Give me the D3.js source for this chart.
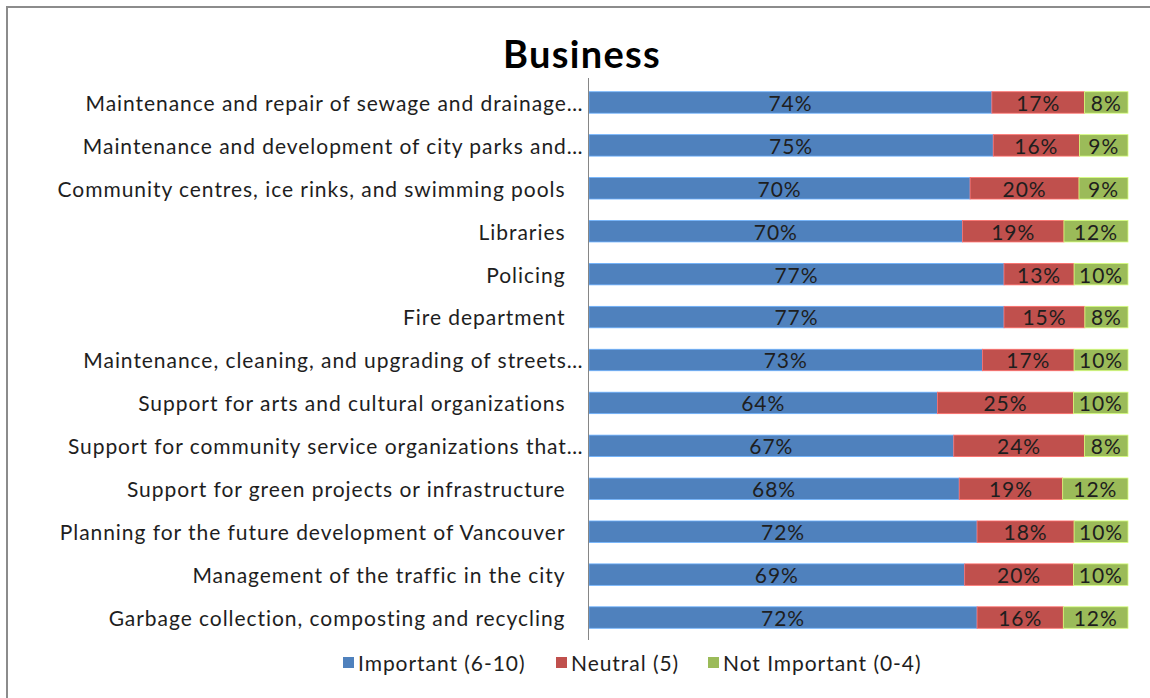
<!DOCTYPE html>
<html>
<head>
<meta charset="utf-8">
<script src="https://cdn.jsdelivr.net/npm/d3@7"></script>
<style>
  html, body { margin: 0; padding: 0; background: #fff; }
  svg { display: block; font-family: Lato, "Open Sans", sans-serif; }
</style>
</head>
<body>
<svg id="chart" width="1150" height="698"></svg>
<script>
// Service categories, top to bottom
const categories = [
  "Maintenance and repair of sewage and drainage…",
  "Maintenance and development of city parks and…",
  "Community centres, ice rinks, and swimming pools",
  "Libraries",
  "Policing",
  "Fire department",
  "Maintenance, cleaning, and upgrading of streets…",
  "Support for arts and cultural organizations",
  "Support for community service organizations that…",
  "Support for green projects or infrastructure",
  "Planning for the future development of Vancouver",
  "Management of the traffic in the city",
  "Garbage collection, composting and recycling"
];

const seriesNames = ["Important (6-10)", "Neutral (5)", "Not Important (0-4)"];
const important    = [74, 75, 70, 70, 77, 77, 73, 64, 67, 68, 72, 69, 72];
const neutral      = [17, 16, 20, 19, 13, 15, 17, 25, 24, 19, 18, 20, 16];
const notImportant = [ 8,  9,  9, 12, 10,  8, 10, 10,  8, 12, 10, 10, 12];
const colors = ["#4F81BD", "#C0504D", "#9BBB59"];
const title = "Business";

const rows = categories.map((c, i) => ({
  category: c,
  [seriesNames[0]]: important[i],
  [seriesNames[1]]: neutral[i],
  [seriesNames[2]]: notImportant[i]
}));

const svg = d3.select("#chart");
const textFill = "#1e1e1e";
const fontSize = 21, spacing = 0.95;

// Outer chart frame
svg.append("rect")
  .attr("x", 7).attr("y", 7)
  .attr("width", 1200).attr("height", 760)
  .attr("fill", "none")
  .attr("stroke", "#8c8c8c")
  .attr("stroke-width", 2);

svg.append("text")
  .attr("x", 582).attr("y", 68)
  .attr("text-anchor", "middle")
  .attr("font-size", 38)
  .attr("font-weight", "bold")
  .attr("letter-spacing", 1.3)
  .attr("fill", "#000")
  .text(title);

const plotLeft = 589, plotRight = 1128, plotTop = 81, plotBottom = 639;

const y = d3.scaleBand()
  .domain(categories)
  .range([plotTop, plotBottom])
  .paddingInner(0.5)
  .paddingOuter(0.25);

const x = d3.scaleLinear().domain([0, 1]).range([plotLeft, plotRight]);

// 100% stacked: each row normalised to its total
const stack = d3.stack().keys(seriesNames).offset(d3.stackOffsetExpand);
const layers = stack(rows);

const gLayers = svg.append("g");
layers.forEach((layer, li) => {
  const g = gLayers.append("g");
  g.selectAll("rect")
    .data(layer)
    .join("rect")
    .attr("x", d => x(d[0]))
    .attr("y", d => y(d.data.category))
    .attr("width", d => x(d[1]) - x(d[0]))
    .attr("height", y.bandwidth())
    .attr("fill", colors[li])
    .attr("stroke", d3.color(colors[li]).brighter(0.9))
    .attr("stroke-width", 0.8);
  g.selectAll("text")
    .data(layer)
    .join("text")
    .attr("x", d => (x(d[0]) + x(d[1])) / 2)
    .attr("y", d => y(d.data.category) + y.bandwidth() / 2)
    .attr("dy", "0.4em")
    .attr("text-anchor", "middle")
    .attr("font-size", fontSize)
    .attr("letter-spacing", spacing)
    .attr("fill", textFill)
    .text(d => d.data[layer.key] + "%");
});

// Category axis
const yAxis = d3.axisLeft(y).tickSize(0).tickPadding(5);
const gy = svg.append("g")
  .attr("transform", `translate(${plotLeft - 0.5},0)`)
  .call(yAxis);
gy.select(".domain").remove();
gy.append("line")
  .attr("x1", 0).attr("x2", 0)
  .attr("y1", 78).attr("y2", 640)
  .attr("stroke", "#868686");
gy.selectAll(".tick text")
  .attr("font-family", "Lato, 'Open Sans', sans-serif")
  .attr("font-size", fontSize)
  .attr("letter-spacing", spacing)
  .attr("fill", textFill)
  .attr("dx", d => d.endsWith("…") ? 0 : -18)
  .attr("dy", "0.4em");

// Legend
const legendX = [343, 556, 708];
const legend = svg.append("g");
seriesNames.forEach((name, i) => {
  legend.append("rect")
    .attr("x", legendX[i]).attr("y", 657)
    .attr("width", 11).attr("height", 11)
    .attr("fill", colors[i]);
  legend.append("text")
    .attr("x", legendX[i] + 15).attr("y", 671)
    .attr("font-size", fontSize)
    .attr("letter-spacing", spacing)
    .attr("fill", textFill)
    .text(name);
});
</script>
</body>
</html>
